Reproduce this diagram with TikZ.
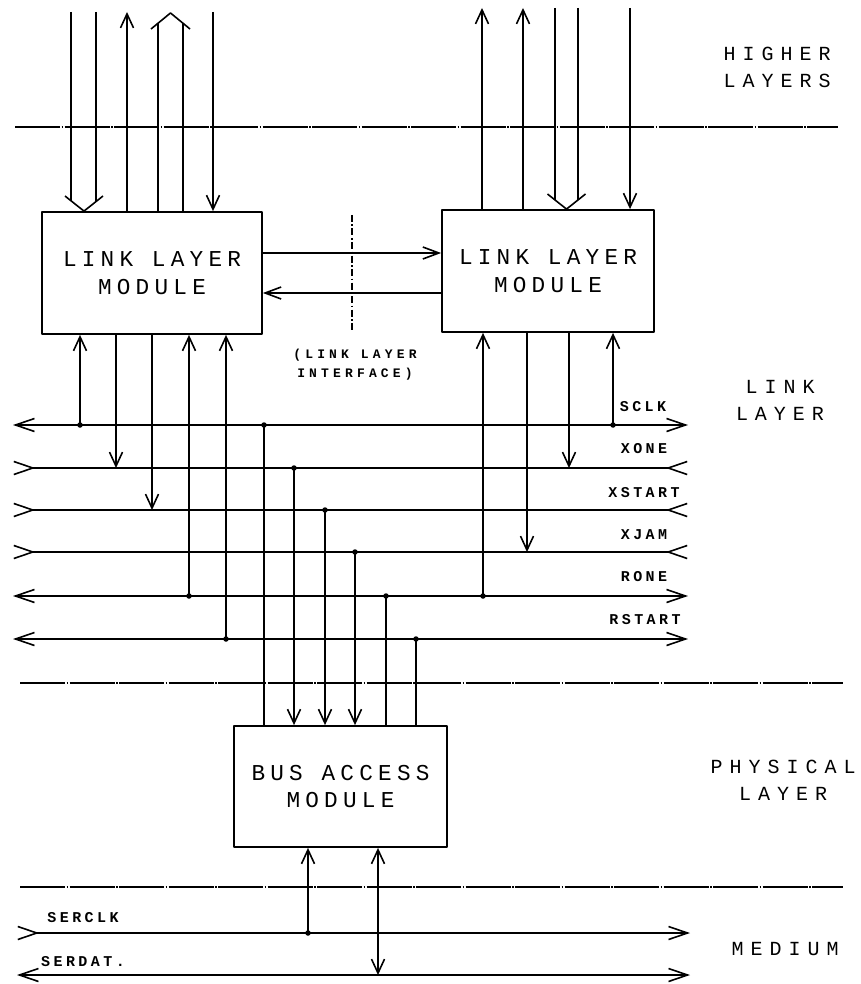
\documentclass[tikz,border=0pt]{standalone}
\usepackage{fontspec}
\setmainfont{Liberation Sans}
\newfontfamily\pf{Liberation Mono}
\usetikzlibrary{arrows.meta}
\tikzset{
  modbox/.style={draw, line width=1.8pt, inner sep=0pt, align=center,
    font=\pf\fontsize{22.7}{27.5}\selectfont\addfontfeature{LetterSpace=23}},
  biglbl/.style={align=center, inner sep=0pt,
    font=\pf\fontsize{20}{27}\selectfont\addfontfeature{LetterSpace=35}},
  slbl/.style={inner sep=0pt,
    font=\pf\bfseries\fontsize{15}{18}\selectfont\addfontfeature{LetterSpace=23}},
  ilbl/.style={align=center, inner sep=0pt,
    font=\pf\bfseries\fontsize{13}{19}\selectfont\addfontfeature{LetterSpace=32}},
  sarr/.style={-{Straight Barb[length=14pt,width=13pt]}},
  darr/.style={{Straight Barb[length=14pt,width=13pt]}-{Straight Barb[length=14pt,width=13pt]}},
  harr/.style={-{Straight Barb[length=16pt,width=12pt]}},
  busout/.style={{Straight Barb[length=19pt,width=13pt]}-{Straight Barb[length=19pt,width=13pt]}},
  busin/.style={{Straight Barb[reversed,length=19pt,width=13pt]}-{Straight Barb[reversed,length=19pt,width=13pt]}},
  busio/.style={{Straight Barb[reversed,length=19pt,width=13pt]}-{Straight Barb[length=19pt,width=13pt]}},
  layerline/.style={line width=1.3pt, dash pattern=on 45pt off 1.5pt on 1.5pt off 1.5pt},
  ifline/.style={line width=1.3pt, dash pattern=on 7pt off 2.5pt on 1.5pt off 2.5pt},
  jdot/.style={circle, fill, inner sep=0pt, minimum size=5.5pt}
}
\begin{document}
\begin{tikzpicture}[x=1pt,y=-1pt,line width=1.6pt,line join=round]
\useasboundingbox (0,0) rectangle (860,984);
\fill[white] (0,0) rectangle (860,984);

% ---------- layer separators
\draw[layerline] (15,127) -- (838,127);
\draw[layerline] (20,683) -- (843,683);
\draw[layerline] (20,887) -- (843,887);

% ---------- modules
\node[modbox, minimum width=220pt, minimum height=122pt] (llm1) at (152,273) {LINK LAYER\\MODULE};
\node[modbox, minimum width=212pt, minimum height=122pt] (llm2) at (548,271) {LINK LAYER\\MODULE};
\node[modbox, minimum width=213pt, minimum height=121pt] (bam) at (340.5,786.5) {BUS ACCESS\\MODULE};

% ---------- layer labels
\node[biglbl] (hl) at (777,67) {HIGHER\\LAYERS};
\node[biglbl] (ll) at (780,400) {LINK\\LAYER};
\node[biglbl] (pl) at (783,780.5) {PHYSICAL\\LAYER};
\node[biglbl] (md) at (785,948.5) {MEDIUM};

% ---------- link layer interface
\coordinate (ifa) at (352,215);
\coordinate (ifb) at (352,330);
\draw[ifline] (ifa) -- (ifb);
\node[ilbl] (ifl) at (355,364.5) {(LINK LAYER\\INTERFACE)};

% ---------- top connections, left module
\coordinate (ta1) at (71,12);
\coordinate (ta2) at (96,12);
\coordinate (tu1) at (127,12);
\coordinate (tb1) at (158,23);
\coordinate (tb2) at (183,23);
\coordinate (td1) at (213,12);
\draw (ta1) -- (71,201);
\draw (ta2) -- (96,201);
\draw (65,196) -- (llm1.north -| 84,0) -- (103,196);
\draw[sarr] (llm1.north -| tu1) -- (tu1);
\draw (llm1.north -| tb1) -- (tb1);
\draw (llm1.north -| tb2) -- (tb2);
\draw (151,29) -- (170.5,13) -- (190,29);
\draw[sarr] (td1) -- (llm1.north -| td1);

% ---------- top connections, right module
\coordinate (ru1) at (482,8);
\coordinate (ru2) at (523,8);
\coordinate (rb1) at (555,8);
\coordinate (rb2) at (578,8);
\coordinate (rd1) at (630,8);
\draw[sarr] (llm2.north -| ru1) -- (ru1);
\draw[sarr] (llm2.north -| ru2) -- (ru2);
\draw (rb1) -- (555,200);
\draw (rb2) -- (578,200);
\draw (547.5,194) -- (llm2.north -| 566.5,0) -- (585.5,194);
\draw[sarr] (rd1) -- (llm2.north -| rd1);

% ---------- between modules
\coordinate (h1) at (0,253);
\coordinate (h2) at (0,293);
\draw[harr] (llm1.east |- h1) -- (llm2.west |- h1);
\draw[harr] (llm2.west |- h2) -- (llm1.east |- h2);

% ---------- bus lines
\draw[busout] (13,425) -- (688,425);
\draw[busin]  (13,468) -- (688,468);
\draw[busin]  (13,510) -- (688,510);
\draw[busin]  (13,552) -- (688,552);
\draw[busout] (13,596) -- (688,596);
\draw[busout] (13,639) -- (688,639);

\node[slbl] (lsclk) at (643,407) {SCLK};
\node[slbl] (lxone) at (644,449) {XONE};
\node[slbl] (lxstart) at (644,493) {XSTART};
\node[slbl] (lxjam) at (644,535) {XJAM};
\node[slbl] (lrone) at (644,577) {RONE};
\node[slbl] (lrstart) at (645,620) {RSTART};

% ---------- junctions
\node[jdot] (j1) at (80,425) {};
\node[jdot] (j2) at (264,425) {};
\node[jdot] (j3) at (613,425) {};
\node[jdot] (j4) at (294,468) {};
\node[jdot] (j5) at (325,510) {};
\node[jdot] (j6) at (355,552) {};
\node[jdot] (j7) at (189,596) {};
\node[jdot] (j8) at (386,596) {};
\node[jdot] (j9) at (483,596) {};
\node[jdot] (j10) at (226,639) {};
\node[jdot] (j11) at (416,639) {};
\coordinate (k1) at (116,468);
\coordinate (k2) at (152,510);
\coordinate (k3) at (527,552);
\coordinate (k4) at (569,468);

% left module bottom
\draw[sarr] (j1.center) -- (llm1.south -| j1);
\draw[sarr] (llm1.south -| k1) -- (k1);
\draw[sarr] (llm1.south -| k2) -- (k2);
\draw[sarr] (j7.center) -- (llm1.south -| j7);
\draw[sarr] (j10.center) -- (llm1.south -| j10);
% right module bottom
\draw[sarr] (j9.center) -- (llm2.south -| j9);
\draw[sarr] (llm2.south -| k3) -- (k3);
\draw[sarr] (llm2.south -| k4) -- (k4);
\draw[sarr] (j3.center) -- (llm2.south -| j3);
% bus access module top
\draw (j2.center) -- (bam.north -| j2);
\draw[sarr] (j4.center) -- (bam.north -| j4);
\draw[sarr] (j5.center) -- (bam.north -| j5);
\draw[sarr] (j6.center) -- (bam.north -| j6);
\draw (j8.center) -- (bam.north -| j8);
\draw (j11.center) -- (bam.north -| j11);

% ---------- medium
\draw[busio]  (17,933) -- (690,933);
\draw[busout] (17,975) -- (690,975);
\node[slbl] (lserclk) at (83,918) {SERCLK};
\node[slbl] (lserdat) at (83,962) {SERDAT.};
\node[jdot] (m1) at (308,933) {};
\coordinate (m2) at (378,975);
\draw[sarr] (m1.center) -- (bam.south -| m1);
\draw[darr] (bam.south -| m2) -- (m2);
\end{tikzpicture}
\end{document}
